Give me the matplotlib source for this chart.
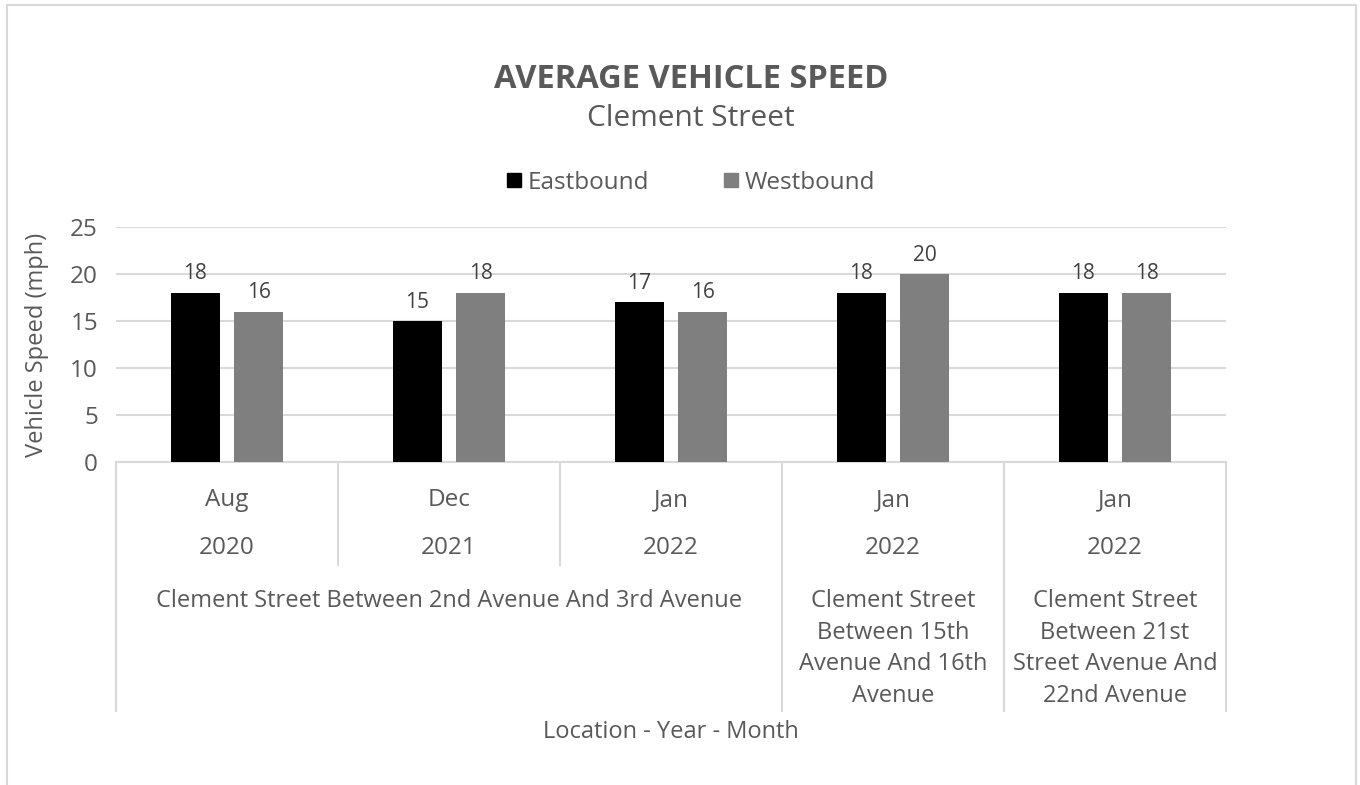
import matplotlib.pyplot as plt
from matplotlib.lines import Line2D
from matplotlib.patches import Rectangle

plt.rcParams['font.family'] = ['Open Sans', 'DejaVu Sans']

months = ['Aug', 'Dec', 'Jan', 'Jan', 'Jan']
years = ['2020', '2021', '2022', '2022', '2022']
locations = ['Clement Street Between 2nd Avenue And 3rd Avenue',
             'Clement Street\nBetween 15th\nAvenue And 16th\nAvenue',
             'Clement Street\nBetween 21st\nStreet Avenue And\n22nd Avenue']
location_span = [(0, 2), (3, 3), (4, 4)]
eastbound = [18, 15, 17, 18, 18]
westbound = [16, 18, 16, 20, 18]

W, H = 1360, 785
text_col = '#595959'
grid_col = '#d9d9d9'

fig = plt.figure(figsize=(W / 100, H / 100), dpi=100)
# axes box in pixels: x 116..1226, y 227..462
ax = fig.add_axes([116 / W, (H - 462) / H, 1110 / W, 235 / H])


def ypx(p):
    # pixel row below the axis -> axes fraction
    return (462 - p) / 235


x = list(range(len(months)))
bw = 0.22
off = 0.143
b1 = ax.bar([i - off for i in x], eastbound, bw, color='black', label='Eastbound', zorder=3)
b2 = ax.bar([i + off for i in x], westbound, bw, color='#7f7f7f', label='Westbound', zorder=3)
ax.bar_label(b1, padding=6, fontsize=15, color='#404040')
ax.bar_label(b2, padding=6, fontsize=15, color='#404040')

ax.set_xlim(-0.5, len(months) - 0.5)
ax.set_ylim(0, 25)
ax.set_yticks(range(0, 26, 5))
ax.yaxis.grid(True, color=grid_col, lw=1.5, zorder=0)
for s in ['top', 'right', 'left']:
    ax.spines[s].set_visible(False)
ax.spines['bottom'].set_color(grid_col)
ax.spines['bottom'].set_linewidth(1.5)
ax.tick_params(axis='y', length=0, labelsize=17.5, labelcolor=text_col, pad=13)
ax.tick_params(axis='x', length=0, labelbottom=False)
ax.set_ylabel('Vehicle Speed (mph)', fontsize=17, color=text_col)
ax.yaxis.set_label_coords(-(116 - 49) / 1110, 0.5)

tr = ax.get_xaxis_transform()
for i in x:
    ax.text(i, ypx(500), months[i], ha='center', va='center', fontsize=17.5,
            color=text_col, transform=tr)
    ax.text(i, ypx(548), years[i], ha='center', va='center', fontsize=17.5,
            color=text_col, transform=tr)
for lab, (a, b) in zip(locations, location_span):
    ax.text((a + b) / 2, ypx(589), lab, ha='center', va='top', fontsize=17,
            color=text_col, linespacing=1.42, transform=tr)

# separators below the axis
for xb in [-0.5, 2.5, 3.5, 4.5]:
    ax.add_line(Line2D([xb, xb], [0, ypx(711)], color=grid_col, lw=1.5,
                       transform=tr, clip_on=False))
for xb in [0.5, 1.5]:
    ax.add_line(Line2D([xb, xb], [0, ypx(565)], color=grid_col, lw=1.5,
                       transform=tr, clip_on=False))

ax.text(0.5, ypx(732), 'Location - Year - Month', ha='center', va='center',
        fontsize=17, color=text_col, transform=ax.transAxes)

fig.text(691 / W, 1 - 80 / H, 'AVERAGE VEHICLE SPEED', ha='center', va='center',
         fontsize=23.5, fontweight='bold', color=text_col)
fig.text(691 / W, 1 - 118 / H, 'Clement Street', ha='center', va='center',
         fontsize=21.5, color=text_col)

handles = [Line2D([], [], ls='', marker='s', markersize=10, color='black'),
           Line2D([], [], ls='', marker='s', markersize=10, color='#7f7f7f')]
fig.legend(handles, ['Eastbound', 'Westbound'], loc='center',
           bbox_to_anchor=(691 / W, 1 - 183 / H), ncol=2, frameon=False,
           fontsize=17.5, labelcolor=text_col, handlelength=0.6, handletextpad=0.25,
           columnspacing=3.1)

fig.add_artist(Rectangle((7 / W, -0.1), (1356 - 7) / W, 1.1 - 5 / H,
                         transform=fig.transFigure, fill=False,
                         edgecolor=grid_col, lw=1.5))

fig.savefig('out.png', dpi=100, facecolor='white')
